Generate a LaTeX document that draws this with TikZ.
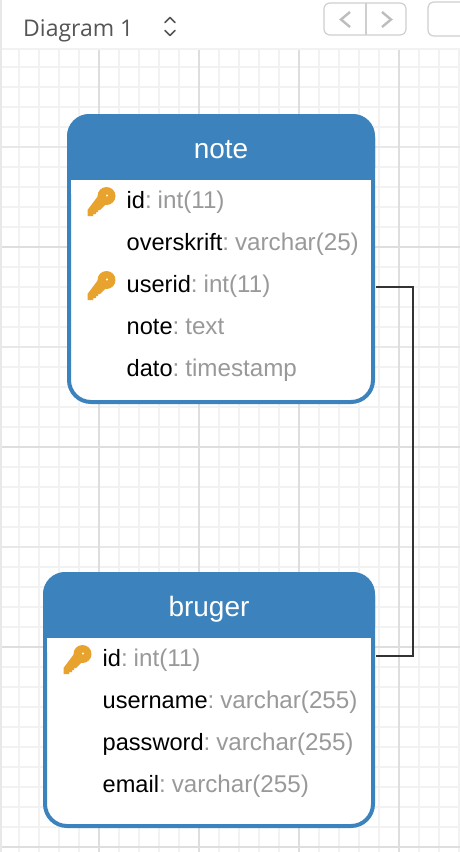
\documentclass[tikz,border=0pt]{standalone}
\usepackage{fontspec}
\setmainfont[WordSpace=0.55]{Liberation Sans}
\newfontfamily\uifont{Open Sans}
\usetikzlibrary{calc}
\definecolor{tblue}{HTML}{3C83BE}
\definecolor{keyc}{HTML}{E8A32E}
\definecolor{typec}{HTML}{999999}
\definecolor{gridmin}{HTML}{F2F2F2}
\definecolor{gridmaj}{HTML}{DEDEDE}
\definecolor{gridmid}{HTML}{E8E8E8}
\definecolor{linec}{HTML}{333333}
\definecolor{btnline}{HTML}{CFCFCF}
\definecolor{chev}{HTML}{BDBDBD}
\definecolor{uitext}{HTML}{555555}
\tikzset{
  rowtext/.style={anchor=base west,inner sep=0pt,font=\fontsize{23.6}{26}\selectfont,text=black},
  title/.style={anchor=base,inner sep=0pt,font=\fontsize{28}{30}\selectfont,text=white},
  tablebox/.style={draw=tblue,line width=4pt,fill=white,rounded corners=22pt},
  header/.style={fill=tblue,rounded corners=22pt},
  connector/.style={draw=linec,line width=2pt},
}
\newcommand{\keyicon}[2]{%
  \begin{scope}[shift={(#1,#2)}]
    \fill[keyc,even odd rule] (9.5,-7) circle (9) (10,-7.5) circle (1.3);
    \fill[keyc] (1,-7) -- (-9.5,7) -- (-9.5,13) -- (-4,13) -- (-3.5,11) -- (-1,11) -- (-1,9) -- (1,9) -- (1,7) -- (3,7) -- (9,1) -- cycle;
  \end{scope}}
\newcommand{\rowl}[4]{\node[rowtext] (#1) at (#2,#3) {#4};}
\newcommand{\typ}[1]{\textcolor{typec}{\fontsize{24.2}{26}\selectfont #1}}
\begin{document}
\begin{tikzpicture}[x=1pt,y=-1pt]
\useasboundingbox (0,0) rectangle (460,852);
\fill[white] (0,0) rectangle (460,852);
% grid
\foreach \x in {18.7,38.7,...,459} \draw[gridmin,line width=2pt] (\x,48) -- (\x,852);
\foreach \y in {66.7,86.7,...,852} \draw[gridmin,line width=2pt] (0,\y) -- (460,\y);
\foreach \y in {146.7,346.7,546.7} \draw[gridmid,line width=2pt] (0,\y) -- (460,\y);
\foreach \y in {246.7,446.7,646.7,846.7} \draw[gridmaj,line width=2pt] (0,\y) -- (460,\y);
\foreach \x in {98.7,198.7,298.7,398.7} \draw[gridmaj,line width=2pt] (\x,48) -- (\x,852);
% toolbar
\fill[gridmin] (0,48) rectangle (460,50);
\fill[gridmid] (0,0) rectangle (2,852);
\node[anchor=base west,inner sep=0pt,text=uitext,font=\uifont\fontsize{23}{24}\selectfont] (dname) at (23,36) {Diagram 1};
\draw[uitext,line width=1.6pt,line cap=round,line join=round] (165,22.5) -- (170,17.5) -- (175,22.5);
\draw[uitext,line width=1.6pt,line cap=round,line join=round] (165,30.5) -- (170,35.5) -- (175,30.5);
\draw[btnline,line width=1.2pt,rounded corners=6pt] (324,3) rectangle (406,35);
\draw[btnline,line width=1.2pt] (366,3) -- (366,35);
\draw[chev,line width=2.4pt] (350,12) -- (341,19.5) -- (350,27);
\draw[chev,line width=2.4pt] (382,12) -- (391,19.5) -- (382,27);
\draw[btnline,line width=1.2pt,rounded corners=6pt] (470,2) -- (428,2) -- (428,36) -- (470,36);
% table note
\draw[tablebox] (69,116) rectangle (373,402);
\fill[header] (67,114) rectangle (375,190);
\fill[white] (71,180) rectangle (371,194);
\node[title] (notetitle) at (221,158) {note};
\keyicon{97}{203}
\rowl{n1}{126.5}{208}{id\typ{: int(11)}}
\rowl{n2}{126.5}{250}{overskrift\typ{: varchar(25)}}
\keyicon{97}{287}
\rowl{n3}{126.5}{292}{userid\typ{: int(11)}}
\rowl{n4}{126.5}{334}{note\typ{: text}}
\rowl{n5}{126.5}{376}{dato\typ{: timestamp}}
% table bruger
\draw[tablebox] (45,574) rectangle (373,826);
\fill[header] (43,572) rectangle (375,648);
\fill[white] (47,638) rectangle (371,652);
\node[title] (brugertitle) at (209,616) {bruger};
\keyicon{73}{661}
\rowl{b1}{102.5}{666}{id\typ{: int(11)}}
\rowl{b2}{102.5}{708}{username\typ{: varchar(255)}}
\rowl{b3}{102.5}{750}{password\typ{: varchar(255)}}
\rowl{b4}{102.5}{792}{email\typ{: varchar(255)}}
% connector
\coordinate (cn) at (376,287);
\coordinate (cb) at (376,656);
\draw[connector] (cn) -- (413,287) -- (413,656) -- (cb);
\end{tikzpicture}
\end{document}
